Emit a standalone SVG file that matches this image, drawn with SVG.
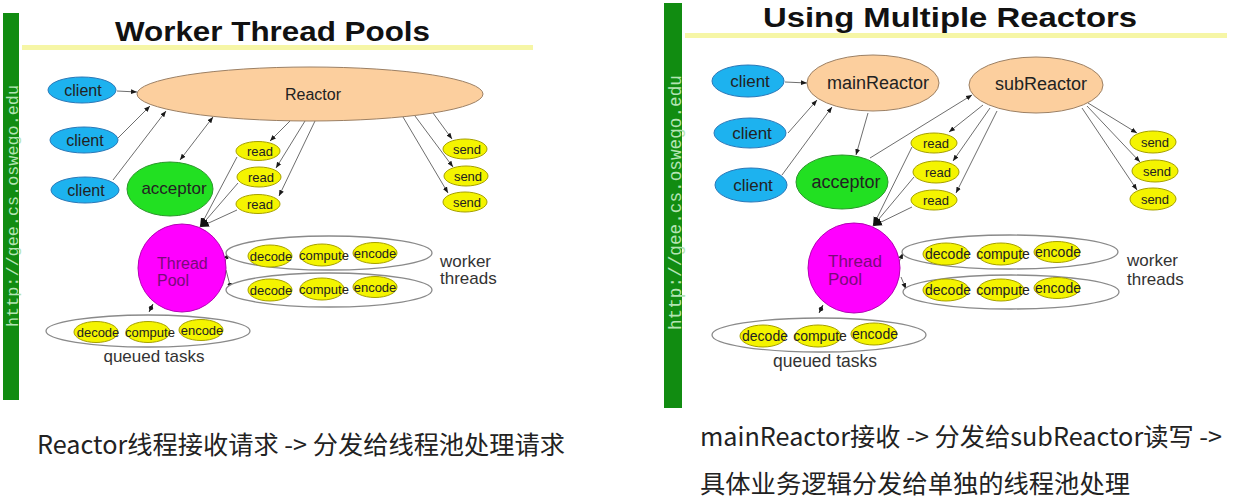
<svg xmlns="http://www.w3.org/2000/svg" width="1251" height="504" viewBox="0 0 1251 504">
<defs>
<style>
.bar{fill:#118c11}
.bartxt{font-family:"Liberation Mono",monospace;fill:#b4e4b4}
.title{font-family:"Liberation Sans",Arial,sans-serif;font-weight:bold;fill:#111}
.hl{fill:#f6f6a6}
.lbl{font-family:"Liberation Sans",Arial,sans-serif;fill:#222;text-anchor:middle;dominant-baseline:central}
.plain{font-family:"Liberation Sans",Arial,sans-serif;fill:#333}
.client{fill:#1db2ef;stroke:#2a78b8;stroke-width:1}
.reactor{fill:#fccf9e;stroke:#9c8064;stroke-width:1}
.acceptor{fill:#22e022;stroke:#2a962a;stroke-width:1}
.yel{fill:#f4f400;stroke:#a6a000;stroke-width:1}
.pool{fill:#ff00ff;stroke:#b400b4;stroke-width:1}
.grp{fill:#ffffff;stroke:#8a8a8a;stroke-width:1.3}
.pooltxt{font-family:"Liberation Sans",Arial,sans-serif;fill:#7a0a7a}
.edge{fill:none;stroke:#6e6e6e;stroke-width:1}
.cn{font-family:"Noto Sans CJK SC","Noto Sans",sans-serif;fill:#222}
</style>
<marker id="ah" viewBox="0 0 10 10" refX="10" refY="5" markerWidth="6" markerHeight="6" orient="auto-start-reverse" markerUnits="userSpaceOnUse"><path d="M0,1 L10,5 L0,9 z" fill="#1a1a1a"/></marker>
<marker id="ahb" viewBox="0 0 10 10" refX="10" refY="5" markerWidth="9" markerHeight="9" orient="auto-start-reverse" markerUnits="userSpaceOnUse"><path d="M0,1 L10,5 L0,9 z" fill="#111"/></marker>
</defs>
<rect width="1251" height="504" fill="#ffffff"/>

<!-- LEFT PANEL -->
<g id="left-frame">
<rect class="bar" x="3" y="13" width="16" height="387"/>
<text class="bartxt" font-size="16.5" textLength="242" lengthAdjust="spacingAndGlyphs" transform="translate(17.5,327) rotate(-90)">http://gee.cs.oswego.edu</text>
<text class="title" x="115" y="41" font-size="28" textLength="315" lengthAdjust="spacingAndGlyphs">Worker Thread Pools</text>
<rect class="hl" x="22" y="45" width="511" height="5"/>
</g>

<g id="L-connectors">
<path class="edge" d="M117,91 L137,92" marker-end="url(#ah)"/>
<path class="edge" d="M118,138 L150,106" marker-end="url(#ah)"/>
<path class="edge" d="M113,180 L166,111" marker-end="url(#ah)"/>
<path class="edge" d="M213,117 L180,160" marker-start="url(#ah)" marker-end="url(#ah)"/>
<path class="edge" d="M290,121 L270,141" marker-end="url(#ah)"/>
<path class="edge" d="M305,121 L276,168" marker-end="url(#ah)"/>
<path class="edge" d="M315,121 L279,196" marker-end="url(#ah)"/>
<path class="edge" d="M237,157 L200,227" marker-end="url(#ahb)"/>
<path class="edge" d="M238,183 L200,227" marker-end="url(#ahb)"/>
<path class="edge" d="M237,210 L200,227" marker-end="url(#ahb)"/>
<path class="edge" d="M433,113 L452,139" marker-end="url(#ah)"/>
<path class="edge" d="M415,116 L453,167" marker-end="url(#ah)"/>
<path class="edge" d="M403,117 L448,193" marker-end="url(#ah)"/>
<path class="edge" d="M225,262 L228,253" marker-end="url(#ah)"/>
<path class="edge" d="M226,270 L231,289" marker-end="url(#ah)"/>
<path class="edge" d="M153,304 L149,312" stroke-dasharray="2,1.5" marker-start="url(#ah)" marker-end="url(#ah)"/>
</g>

<g id="L-reactor"><ellipse class="reactor" cx="310" cy="94" rx="173" ry="27"/><text class="lbl" x="313" y="94" font-size="16">Reactor</text></g>
<g id="L-client1"><ellipse class="client" cx="82" cy="90" rx="34" ry="13"/><text class="lbl" x="83" y="90" font-size="16">client</text></g>
<g id="L-client2"><ellipse class="client" cx="84" cy="140" rx="34" ry="13"/><text class="lbl" x="85" y="140" font-size="16">client</text></g>
<g id="L-client3"><ellipse class="client" cx="85" cy="190" rx="34" ry="13"/><text class="lbl" x="86" y="190" font-size="16">client</text></g>
<g id="L-acceptor"><ellipse class="acceptor" cx="170" cy="189" rx="43" ry="27"/><text class="lbl" x="174" y="188" font-size="17">acceptor</text></g>
<g id="L-read1"><ellipse class="yel" cx="258" cy="151" rx="22" ry="9.5"/><text class="lbl" x="260" y="151" font-size="13">read</text></g>
<g id="L-read2"><ellipse class="yel" cx="259" cy="177" rx="22" ry="10"/><text class="lbl" x="261" y="177" font-size="13">read</text></g>
<g id="L-read3"><ellipse class="yel" cx="258" cy="204" rx="22" ry="9.5"/><text class="lbl" x="260" y="204" font-size="13">read</text></g>
<g id="L-send1"><ellipse class="yel" cx="465" cy="149" rx="22" ry="10"/><text class="lbl" x="467" y="149" font-size="13">send</text></g>
<g id="L-send2"><ellipse class="yel" cx="466" cy="176" rx="22" ry="10"/><text class="lbl" x="468" y="176" font-size="13">send</text></g>
<g id="L-send3"><ellipse class="yel" cx="465" cy="202" rx="22" ry="10"/><text class="lbl" x="467" y="202" font-size="13">send</text></g>
<g id="L-pool"><ellipse class="pool" cx="182" cy="268" rx="44" ry="44"/><text class="pooltxt" x="157" y="269" font-size="16">Thread</text><text class="pooltxt" x="157" y="286" font-size="16">Pool</text></g>
<g id="L-worker1"><ellipse class="grp" cx="329" cy="253" rx="103" ry="17"/>
<ellipse class="yel" cx="270" cy="256" rx="22" ry="11"/><ellipse class="yel" cx="322" cy="255" rx="22" ry="11"/><ellipse class="yel" cx="375" cy="253" rx="22" ry="10.5"/>
<text class="lbl" x="271" y="256" font-size="13">decode</text><text class="lbl" x="324" y="255" font-size="13">compute</text><text class="lbl" x="375" y="253" font-size="13">encode</text></g>
<g id="L-worker2"><ellipse class="grp" cx="329" cy="290" rx="103" ry="17"/>
<ellipse class="yel" cx="270" cy="290" rx="22" ry="11"/><ellipse class="yel" cx="322" cy="289" rx="22" ry="11"/><ellipse class="yel" cx="375" cy="287" rx="22" ry="10.5"/>
<text class="lbl" x="271" y="290" font-size="13">decode</text><text class="lbl" x="324" y="289" font-size="13">compute</text><text class="lbl" x="375" y="287" font-size="13">encode</text></g>
<g id="L-workerlabel"><text class="plain" x="440" y="267" font-size="17">worker</text><text class="plain" x="440" y="284" font-size="17">threads</text></g>
<g id="L-queued"><ellipse class="grp" cx="148" cy="331" rx="102" ry="16"/>
<ellipse class="yel" cx="96" cy="332" rx="22" ry="10.5"/><ellipse class="yel" cx="148" cy="332" rx="22" ry="10.5"/><ellipse class="yel" cx="201" cy="330" rx="22" ry="10.5"/>
<text class="lbl" x="98" y="332" font-size="13">decode</text><text class="lbl" x="150" y="332" font-size="13">compute</text><text class="lbl" x="202" y="330" font-size="13">encode</text>
<text class="plain" x="154" y="362" font-size="17" text-anchor="middle">queued tasks</text></g>

<text class="cn" x="37" y="454" font-size="25" textLength="528" lengthAdjust="spacingAndGlyphs">Reactor线程接收请求 -&gt; 分发给线程池处理请求</text>

<!-- RIGHT PANEL -->
<g id="right-frame">
<rect class="bar" x="664" y="3" width="18" height="405"/>
<text class="bartxt" font-size="17.5" textLength="255" lengthAdjust="spacingAndGlyphs" transform="translate(680.5,330) rotate(-90)">http://gee.cs.oswego.edu</text>
<text class="title" x="763" y="27" font-size="28" textLength="374" lengthAdjust="spacingAndGlyphs">Using Multiple Reactors</text>
<rect class="hl" x="685" y="33" width="542" height="5"/>
</g>

<g id="R-connectors">
<path class="edge" d="M785,82 L807,83" marker-end="url(#ah)"/>
<path class="edge" d="M788,133 L817,100" marker-end="url(#ah)"/>
<path class="edge" d="M782,175 L832,107" marker-end="url(#ah)"/>
<path class="edge" d="M868,113 L856,155" marker-end="url(#ah)"/>
<path class="edge" d="M870,158 L972,95" marker-end="url(#ah)"/>
<path class="edge" d="M983,105 L949,132" marker-end="url(#ah)"/>
<path class="edge" d="M990,108 L953,161" marker-end="url(#ah)"/>
<path class="edge" d="M997,111 L956,193" marker-end="url(#ah)"/>
<path class="edge" d="M912,147 L873,226" marker-end="url(#ahb)"/>
<path class="edge" d="M914,177 L873,226" marker-end="url(#ahb)"/>
<path class="edge" d="M912,207 L873,226" marker-end="url(#ahb)"/>
<path class="edge" d="M1088,103 L1137,133" marker-end="url(#ah)"/>
<path class="edge" d="M1087,106 L1140,162" marker-end="url(#ah)"/>
<path class="edge" d="M1082,108 L1137,190" marker-end="url(#ah)"/>
<path class="edge" d="M899,262 L903,253" marker-end="url(#ah)"/>
<path class="edge" d="M901,277 L906,289" marker-end="url(#ah)"/>
<path class="edge" d="M823,305 L819,313" stroke-dasharray="2,1.5" marker-start="url(#ah)" marker-end="url(#ah)"/>
</g>

<g id="R-mainReactor"><ellipse class="reactor" cx="873" cy="83" rx="66" ry="28"/><text class="lbl" x="878" y="83" font-size="18">mainReactor</text></g>
<g id="R-subReactor"><ellipse class="reactor" cx="1036" cy="85" rx="67" ry="28"/><text class="lbl" x="1041" y="84" font-size="18">subReactor</text></g>
<g id="R-client1"><ellipse class="client" cx="748" cy="81" rx="36" ry="16"/><text class="lbl" x="750" y="81" font-size="17">client</text></g>
<g id="R-client2"><ellipse class="client" cx="750" cy="133" rx="36" ry="15"/><text class="lbl" x="752" y="133" font-size="17">client</text></g>
<g id="R-client3"><ellipse class="client" cx="751" cy="185" rx="36" ry="17"/><text class="lbl" x="753" y="185" font-size="17">client</text></g>
<g id="R-acceptor"><ellipse class="acceptor" cx="842" cy="182" rx="46" ry="27"/><text class="lbl" x="846" y="182" font-size="18">acceptor</text></g>
<g id="R-read1"><ellipse class="yel" cx="934" cy="143" rx="23" ry="10"/><text class="lbl" x="936" y="143" font-size="13">read</text></g>
<g id="R-read2"><ellipse class="yel" cx="936" cy="172" rx="23" ry="11"/><text class="lbl" x="938" y="172" font-size="13">read</text></g>
<g id="R-read3"><ellipse class="yel" cx="934" cy="200" rx="23" ry="10"/><text class="lbl" x="936" y="200" font-size="13">read</text></g>
<g id="R-send1"><ellipse class="yel" cx="1153" cy="142" rx="23" ry="11"/><text class="lbl" x="1155" y="142" font-size="13">send</text></g>
<g id="R-send2"><ellipse class="yel" cx="1155" cy="171" rx="23" ry="11"/><text class="lbl" x="1157" y="171" font-size="13">send</text></g>
<g id="R-send3"><ellipse class="yel" cx="1153" cy="199" rx="23" ry="11"/><text class="lbl" x="1155" y="199" font-size="13">send</text></g>
<g id="R-pool"><ellipse class="pool" cx="854" cy="268" rx="46" ry="45"/><text class="pooltxt" x="828" y="267" font-size="17">Thread</text><text class="pooltxt" x="828" y="285" font-size="17">Pool</text></g>
<g id="R-worker1"><ellipse class="grp" cx="1010" cy="252" rx="108" ry="17"/>
<ellipse class="yel" cx="946" cy="254" rx="23" ry="11"/><ellipse class="yel" cx="1001" cy="254" rx="23" ry="11"/><ellipse class="yel" cx="1057" cy="252" rx="23" ry="10.5"/>
<text class="lbl" x="948" y="254" font-size="14">decode</text><text class="lbl" x="1003" y="254" font-size="14">compute</text><text class="lbl" x="1058" y="252" font-size="14">encode</text></g>
<g id="R-worker2"><ellipse class="grp" cx="1011" cy="292" rx="108" ry="17"/>
<ellipse class="yel" cx="946" cy="290" rx="23" ry="11"/><ellipse class="yel" cx="1001" cy="290" rx="23" ry="11"/><ellipse class="yel" cx="1057" cy="288" rx="23" ry="10.5"/>
<text class="lbl" x="948" y="290" font-size="14">decode</text><text class="lbl" x="1003" y="290" font-size="14">compute</text><text class="lbl" x="1058" y="288" font-size="14">encode</text></g>
<g id="R-workerlabel"><text class="plain" x="1127" y="266" font-size="17">worker</text><text class="plain" x="1127" y="285" font-size="17">threads</text></g>
<g id="R-queued"><ellipse class="grp" cx="819" cy="335" rx="107" ry="17"/>
<ellipse class="yel" cx="763" cy="336" rx="23" ry="11"/><ellipse class="yel" cx="818" cy="336" rx="23" ry="11"/><ellipse class="yel" cx="874" cy="334" rx="23" ry="11"/>
<text class="lbl" x="765" y="336" font-size="14">decode</text><text class="lbl" x="820" y="336" font-size="14">compute</text><text class="lbl" x="875" y="334" font-size="14">encode</text>
<text class="plain" x="825" y="367" font-size="17.5" text-anchor="middle">queued tasks</text></g>

<text class="cn" x="700" y="446" font-size="25" textLength="522" lengthAdjust="spacingAndGlyphs">mainReactor接收 -&gt; 分发给subReactor读写 -&gt;</text>
<text class="cn" x="700" y="493" font-size="25" textLength="430" lengthAdjust="spacingAndGlyphs">具体业务逻辑分发给单独的线程池处理</text>
</svg>
